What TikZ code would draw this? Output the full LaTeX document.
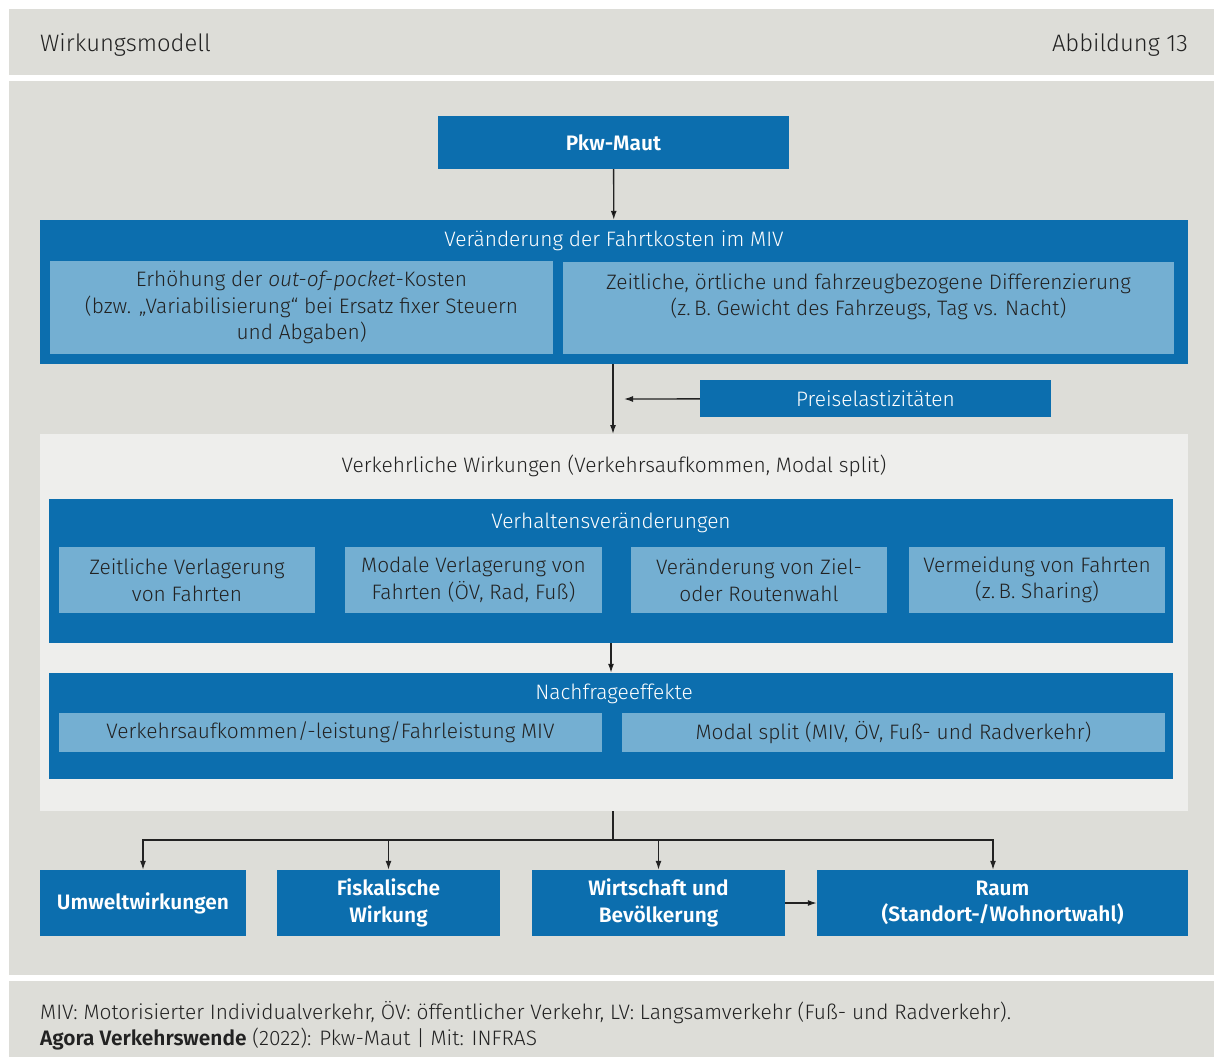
\documentclass[tikz,border=0pt]{standalone}
\usepackage{fontspec}
\setmainfont{Fira Sans}[UprightFont=* Light,ItalicFont=* Light Italic,BoldFont=* SemiBold]
\usetikzlibrary{arrows.meta}
\definecolor{agblue}{RGB}{12,110,174}
\definecolor{aglight}{RGB}{116,175,210}
\definecolor{aggray}{RGB}{221,221,216}
\definecolor{agpale}{RGB}{238,238,236}
\definecolor{agtext}{RGB}{34,34,34}

\begin{document}
\begin{tikzpicture}[x=1pt,y=-1pt,
	every node/.style={font=\fontsize{20.9}{26.5}\selectfont,inner sep=0pt,align=center},
	darkbox/.style={shape=rectangle,fill=agblue,text=white},
	lightbox/.style={shape=rectangle,fill=aglight,text=agtext},
	palebox/.style={shape=rectangle,fill=agpale},
	arrow/.style={-{Latex[length=9pt,width=6pt]},line width=1.3pt,draw=agtext}]
	\useasboundingbox[fill=white] (0,0) rectangle (1214,1057);
	\fill[aggray] (9,9) rectangle (1214,75);
	\fill[aggray] (9,81) rectangle (1214,975);
	\fill[aggray] (9,981) rectangle (1214,1057);
	\node[anchor=west,text=agtext,font=\fontsize{23.8}{26}\selectfont] (head) at (40, 45) {Wirkungsmodell};
	\node[anchor=east,text=agtext,font=\fontsize{23.8}{26}\selectfont] (fig) at (1188, 45) {Abbildung 13};

	\node[darkbox,minimum width=351,minimum height=53] (maut) at (613.5, 142.5) {\textbf{Pkw-Maut}};
	\node[darkbox,minimum width=1148,minimum height=144] (kosten) at (614, 292) {};
	\node[text=white] (kostentitle) at (614, 241) {Veränderung der Fahrtkosten im MIV};
	\node[lightbox,minimum width=503,minimum height=93] (oop) at (301.5, 307.5)
		{Erhöhung der \textit{out-of-pocket}-Kosten\\(bzw. „Variabilisierung“ bei Ersatz fixer Steuern\\und Abgaben)};
	\node[lightbox,minimum width=611,minimum height=92] (diff) at (868.5, 308)
		{Zeitliche, örtliche und fahrzeugbezogene Differenzierung\\(z.\,B. Gewicht des Fahrzeugs, Tag vs. Nacht)\\\mbox{}};
	\node[darkbox,minimum width=351,minimum height=37] (preis) at (875.5, 398.5) {Preiselastizitäten};
	\coordinate (kostenout) at (613, 364);
	\coordinate (preisend) at (624, 399);
	\coordinate (verkehrin) at (613, 434);

	\node[palebox,minimum width=1148,minimum height=377] (verkehr) at (614, 622.5) {};
	\node[text=agtext] (verkehrtitle) at (614, 466) {Verkehrliche Wirkungen (Verkehrsaufkommen, Modal split)};
	\node[darkbox,minimum width=1124,minimum height=144] (verhalten) at (611, 571) {};
	\node[text=white] (verhaltentitle) at (611, 523) {Verhaltensveränderungen};
	\node[lightbox,minimum width=256,minimum height=66] (zeit) at (187, 580) {Zeitliche Verlagerung\\von Fahrten};
	\node[lightbox,minimum width=257,minimum height=66] (modal) at (473.5, 580) {Modale Verlagerung von\\Fahrten (ÖV, Rad, Fuß)};
	\node[lightbox,minimum width=256,minimum height=66] (ziel) at (759, 580) {Veränderung von Ziel-\\oder Routenwahl};
	\node[lightbox,minimum width=256,minimum height=66] (vermeid) at (1037, 580) {Vermeidung von Fahrten\\(z.\,B. Sharing)};
	\node[darkbox,minimum width=1124,minimum height=106] (nachfrage) at (611, 726) {};
	\node[text=white] (nachfragetitle) at (614, 694) {Nachfrageeffekte};
	\node[lightbox,minimum width=543,minimum height=39] (aufkommen) at (330.5, 732.5) {Verkehrsaufkommen/-leistung/Fahrleistung MIV};
	\node[lightbox,minimum width=543,minimum height=39] (split) at (893.5, 732.5) {Modal split (MIV, ÖV, Fuß- und Radverkehr)};

	\coordinate (verkehrout) at (613, 811);
	\coordinate (fork) at (613, 840);
	\node[darkbox,minimum width=206,minimum height=66] (umwelt) at (143, 903) {\textbf{Umweltwirkungen}};
	\node[darkbox,minimum width=223,minimum height=66] (fiskal) at (388.5, 903) {\textbf{Fiskalische}\\\textbf{Wirkung}};
	\node[darkbox,minimum width=253,minimum height=66] (wirtschaft) at (658.5, 903) {\textbf{Wirtschaft und}\\\textbf{Bevölkerung}};
	\node[darkbox,minimum width=371,minimum height=66] (raum) at (1002.5, 903) {\textbf{Raum}\\\textbf{(Standort-/Wohnortwahl)}};

	\node[anchor=west,text=agtext,align=left] (notes) at (40, 1025.5)
		{MIV: Motorisierter Individualverkehr, ÖV: öffentlicher Verkehr, LV: Langsamverkehr (Fuß- und Radverkehr).\\
		\textbf{Agora Verkehrswende} (2022): Pkw-Maut | Mit: INFRAS};

	\path[arrow] (maut) edge (kosten);
	\draw[arrow] (kostenout) -- (verkehrin);
	\draw[arrow] (preis) -- (preisend);
	\path[arrow] (verhalten) edge (nachfrage);
	\draw[line width=1.3pt,agtext] (verkehrout) -- (fork);
	\draw[arrow] (fork) -| (umwelt.north);
	\draw[arrow] (fork) -| (fiskal.north);
	\draw[arrow] (fork) -| (wirtschaft.north);
	\draw[arrow] (fork) -| ([xshift=-9.5]raum.north);
	\path[arrow] (wirtschaft) edge (raum);
\end{tikzpicture}
\end{document}
